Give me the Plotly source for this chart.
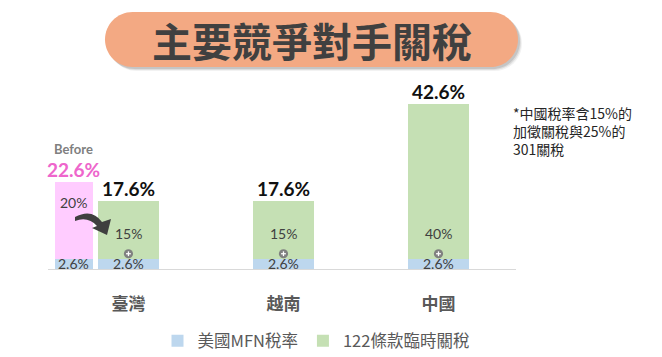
import plotly.graph_objects as go

# ---------------- data ----------------
categories = ["臺灣", "越南", "中國"]
mfn_rate = [2.6, 2.6, 2.6]          # 美國MFN稅率
sec122_rate = [15, 15, 40]          # 122條款臨時關稅
totals = [17.6, 17.6, 42.6]
before_mfn = 2.6
before_extra = 20
before_total = 22.6
legend_names = ["美國MFN稅率", "122條款臨時關稅"]
title_text = "主要競爭對手關稅"
note_text = "*中國稅率含15%的<br>加徵關稅與25%的<br>301關稅"

# ---------------- layout helpers ----------------
# page body has an 8px default margin; positions below are screen pixels
PAGE = 8
W, H = 662, 357
PLOT_L, PLOT_R, PLOT_T, PLOT_B = 48, 516, 91, 269      # screen px
ML = PLOT_L - PAGE
MT = PLOT_T - PAGE
MR = W - (PLOT_R - PAGE)
MB = H - (PLOT_B - PAGE)
PW, PH = W - ML - MR, H - MT - MB

def paper_x(px):
    return (px - PLOT_L) / PW

def paper_y(py):
    return (PLOT_B - py) / PH

def rel(px, py):
    # pixel offsets relative to paper (0,0) anchor (positive y up)
    return px - PLOT_L, PLOT_B - py

cat_x = [0, 1, 2]
before_x = -0.352
main_w = 0.394
before_w = 0.245

BLUE = "#BDD7EE"
GREEN = "#C5E0B4"
PINK = "#FFCCFF"
PINK_TXT = "#EE66CC"
NUM_FONT = "Lato"
CJK_FONT = "Noto Sans CJK TC"

fig = go.Figure()

fig.add_trace(go.Bar(
    x=[before_x] + cat_x, y=[before_mfn] + mfn_rate,
    width=[before_w] + [main_w] * 3,
    marker=dict(color=BLUE, line=dict(width=0)),
    name=legend_names[0], hoverinfo="skip",
))
fig.add_trace(go.Bar(
    x=cat_x, y=sec122_rate, width=[main_w] * 3,
    marker=dict(color=GREEN, line=dict(width=0)),
    name=legend_names[1], hoverinfo="skip",
))
fig.add_trace(go.Bar(
    x=[before_x], y=[before_extra], width=[before_w],
    marker=dict(color=PINK, line=dict(width=0)),
    name="Before", showlegend=False, hoverinfo="skip",
))

annotations = []
shapes = []

# totals above bars
for x, t in zip(cat_x, totals):
    annotations.append(dict(x=x, y=t, xref="x", yref="y", text=f"<b>{t}%</b>",
                            showarrow=False, yanchor="bottom", yshift=-1,
                            font=dict(family=NUM_FONT, size=19, color="#111111")))
annotations.append(dict(x=before_x, y=before_total, xref="x", yref="y",
                        text=f"<b>{before_total}%</b>", showarrow=False,
                        yanchor="bottom", yshift=-1,
                        font=dict(family=NUM_FONT, size=19, color=PINK_TXT)))
annotations.append(dict(x=before_x, y=before_total, xref="x", yref="y",
                        text="<b>Before</b>", showarrow=False, yanchor="bottom",
                        yshift=23, font=dict(family=NUM_FONT, size=13, color="#7F7F7F")))

# inner labels
for x, m in zip([before_x] + cat_x, [before_mfn] + mfn_rate):
    annotations.append(dict(x=x, y=m / 2, xref="x", yref="y", text=f"{m}%",
                            showarrow=False, yanchor="middle",
                            font=dict(family=NUM_FONT, size=14, color="#404040")))
annotations.append(dict(x=before_x, y=before_total, xref="x", yref="y",
                        text=f"{before_extra}%", showarrow=False, yanchor="middle",
                        yshift=-21, font=dict(family=NUM_FONT, size=14, color="#404040")))
for x, m, s in zip(cat_x, mfn_rate, sec122_rate):
    annotations.append(dict(x=x, y=m, xref="x", yref="y", text=f"{s}%",
                            showarrow=False, yanchor="middle", yshift=25,
                            font=dict(family=NUM_FONT, size=14, color="#404040")))

# plus circles
for x, m in zip(cat_x, mfn_rate):
    shapes.append(dict(type="circle", xref="x", yref="y", xsizemode="pixel",
                       ysizemode="pixel", xanchor=x, yanchor=m,
                       x0=-4.6, x1=4.6, y0=0.6, y1=9.8,
                       fillcolor="#808080", line=dict(width=0), layer="above"))
    shapes.append(dict(type="line", xref="x", yref="y", xsizemode="pixel",
                       ysizemode="pixel", xanchor=x, yanchor=m,
                       x0=-2.4, x1=2.4, y0=5.2, y1=5.2,
                       line=dict(color="white", width=1.3), layer="above"))
    shapes.append(dict(type="line", xref="x", yref="y", xsizemode="pixel",
                       ysizemode="pixel", xanchor=x, yanchor=m,
                       x0=0, x1=0, y0=2.8, y1=7.6,
                       line=dict(color="white", width=1.3), layer="above"))

# curved arrow (decoration)
pts = [(75, 217), ("Q", (92, 208), (102, 222)), (111, 219), (107, 235),
       (92, 228), (97, 226), ("Q", (88, 216), (75, 221))]
def p(pt):
    a, b = rel(*pt)
    return f"{a:.1f},{b:.1f}"
path = "M" + p(pts[0])
for item in pts[1:]:
    if item[0] == "Q":
        path += " Q" + p(item[1]) + " " + p(item[2])
    else:
        path += " L" + p(item)
path += " Z"
shapes.append(dict(type="path", xref="paper", yref="paper", xsizemode="pixel",
                   ysizemode="pixel", xanchor=0, yanchor=0, path=path,
                   fillcolor="#3F3F3F", line=dict(width=0), layer="above"))

# title pill
def pill(x0, y0, x1, y1):
    r = (y1 - y0) / 2
    k = 0.5523 * r
    cy = (y0 + y1) / 2
    segs = [
        ("M", [(x0 + r, y0)]),
        ("L", [(x1 - r, y0)]),
        ("C", [(x1 - r + k, y0), (x1, cy - k), (x1, cy)]),
        ("C", [(x1, cy + k), (x1 - r + k, y1), (x1 - r, y1)]),
        ("L", [(x0 + r, y1)]),
        ("C", [(x0 + r - k, y1), (x0, cy + k), (x0, cy)]),
        ("C", [(x0, cy - k), (x0 + r - k, y0), (x0 + r, y0)]),
    ]
    s = ""
    for cmd, ps in segs:
        s += cmd + " ".join(p(q) for q in ps) + " "
    return s + "Z"

for off, op in [(4, 0.10), (3, 0.18), (2, 0.25)]:
    shapes.append(dict(type="path", xref="paper", yref="paper", xsizemode="pixel",
                       ysizemode="pixel", xanchor=0, yanchor=0,
                       path=pill(105 + off, 12 + off, 518 + off, 67 + off),
                       fillcolor="#7F7F7F", opacity=op, line=dict(width=0), layer="above"))
shapes.append(dict(type="path", xref="paper", yref="paper", xsizemode="pixel",
                   ysizemode="pixel", xanchor=0, yanchor=0,
                   path=pill(105, 12, 518, 67),
                   fillcolor="#F3A983", line=dict(width=0), layer="above"))

annotations.append(dict(x=paper_x(311.5), y=paper_y(40), xref="paper", yref="paper",
                        text=f"<b>{title_text}</b>", showarrow=False,
                        xanchor="center", yanchor="middle",
                        font=dict(family=CJK_FONT, size=40, color="#404040")))

# note
annotations.append(dict(x=paper_x(511), y=paper_y(101), xref="paper", yref="paper",
                        text=note_text, showarrow=False, xanchor="left", yanchor="top",
                        align="left",
                        font=dict(family=CJK_FONT, size=14, color="#262626")))

fig.update_layout(
    width=W, height=H,
    margin=dict(l=ML, r=MR, t=MT, b=MB, pad=0, autoexpand=False),
    paper_bgcolor="white", plot_bgcolor="white",
    barmode="stack",
    showlegend=True,
    legend=dict(orientation="h", xref="container", yref="container",
                x=(316 - PAGE) / W, y=(H - (341 - PAGE)) / H,
                xanchor="center", yanchor="middle",
                font=dict(family=CJK_FONT, size=16.5, color="#595959"),
                traceorder="normal", itemclick=False),
    xaxis=dict(range=[-0.519, 2.5], showline=True, linecolor="#D9D9D9", linewidth=1,
               showgrid=False, zeroline=False, ticks="",
               tickvals=cat_x, ticktext=[f"<b>{c}</b>" for c in categories],
               tickfont=dict(family=CJK_FONT, size=17, color="#595959"),
               ticklabelstandoff=20, fixedrange=True, automargin=False),
    yaxis=dict(range=[0, 46], visible=False, showgrid=False, zeroline=False,
               fixedrange=True, automargin=False),
    annotations=annotations,
    shapes=shapes,
)

fig.write_html("out.html")
